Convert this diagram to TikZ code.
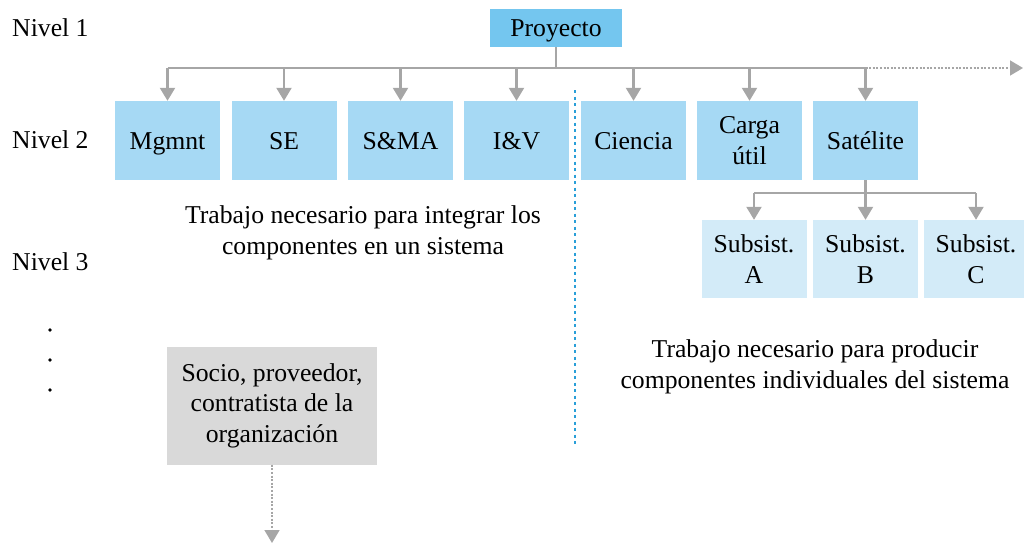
\documentclass[tikz,border=0pt]{standalone}
\usepackage{fontspec}
\setmainfont{Liberation Serif}
\usetikzlibrary{arrows.meta}
\definecolor{lvone}{HTML}{74C6EF}
\definecolor{lvtwo}{HTML}{A6D9F4}
\definecolor{lvthree}{HTML}{D3EBF8}
\definecolor{greybox}{HTML}{D9D9D9}
\definecolor{conn}{HTML}{A6A6A6}
\definecolor{sepblue}{HTML}{2A9FD8}
\tikzset{
  x=1pt, y=-1pt,
  every node/.style={font=\fontsize{25.7}{30.5}\selectfont, inner sep=0pt, align=center},
  oneline/.style={text height=20pt, text depth=2.5pt},
  boxone/.style={fill=lvone, minimum width=132, minimum height=38},
  boxtwo/.style={fill=lvtwo, minimum width=105, minimum height=79},
  boxthree/.style={fill=lvthree, minimum width=105, minimum height=78},
  boxgrey/.style={fill=greybox, minimum width=210, minimum height=118},
  conline/.style={draw=conn, line width=2.2pt, line join=miter},
  conarrow/.style={conline, -{Triangle[width=15pt,length=13pt]}},
  dotarrow/.style={draw=conn, line width=1.6pt, dash pattern=on 2pt off 1.6pt, -{Triangle[width=15pt,length=13pt]}},
  sepline/.style={draw=sepblue, line width=2.6pt, dash pattern=on 3pt off 3.5pt},
  lbl/.style={anchor=west, oneline}
}
\begin{document}
\begin{tikzpicture}
\useasboundingbox (0,0) rectangle (1024,543);
% level labels
\node[lbl] (n1) at (12,28) {Nivel 1};
\node[lbl] (n2) at (12,140) {Nivel 2};
\node[lbl] (n3) at (12,262) {Nivel 3};
\fill (50,330) circle (1.8) (50,360) circle (1.8) (50,390) circle (1.8);
% level 1
\node[boxone, oneline] (proj) at (556,28) {Proyecto};
% level 2
\node[boxtwo, oneline] (mg) at (167.5,140.5) {Mgmnt};
\node[boxtwo, oneline] (se) at (284,140.5) {SE};
\node[boxtwo, oneline] (sma) at (400.5,140.5) {S\&MA};
\node[boxtwo, oneline] (iv) at (516.5,140.5) {I\&V};
\node[boxtwo, oneline] (ci) at (633.5,140.5) {Ciencia};
\node[boxtwo] (cu) at (749.5,140.5) {Carga\\útil};
\node[boxtwo, oneline] (sat) at (865.5,140.5) {Satélite};
% level 3
\node[boxthree] (sa) at (754,259) {Subsist.\\A};
\node[boxthree] (sb) at (865.5,259) {Subsist.\\B};
\node[boxthree] (sc) at (976,259) {Subsist.\\C};
% grey box
\node[boxgrey] (socio) at (272,405.5) {Socio, proveedor,\\contratista de la\\organización};
% texts
\node (t1) at (363,233) {Trabajo necesario para integrar los\\componentes en un sistema};
\node (t2) at (815,367) {Trabajo necesario para producir\\componentes individuales del sistema};
% connectors level 1 -> 2
\coordinate (bar) at (556,68);
\coordinate (barend) at (1023,68);
\draw[conline] (proj.south) -- (bar);
\draw[conline] (mg.north |- bar) -- (sat.north |- bar);
\foreach \n in {mg,se,sma,iv,ci,cu,sat}{
  \draw[conarrow] (\n.north |- bar) -- (\n.north);
}
\draw[dotarrow] (sat.north |- bar) -- (barend);
% connectors level 2 -> 3
\coordinate (bar2) at (865.5,193);
\draw[conline] (sat.south) -- (bar2);
\draw[conline] (sa.north |- bar2) -- (sc.north |- bar2);
\foreach \n in {sa,sb,sc}{
  \draw[conarrow] (\n.north |- bar2) -- (\n.north);
}
% separator
\coordinate (septop) at (575,90);
\coordinate (sepbot) at (575,446);
\draw[sepline] (septop) -- (sepbot);
% socio arrow
\coordinate (socend) at (272,543);
\draw[dotarrow] (socio.south) -- (socend);
\end{tikzpicture}
\end{document}
